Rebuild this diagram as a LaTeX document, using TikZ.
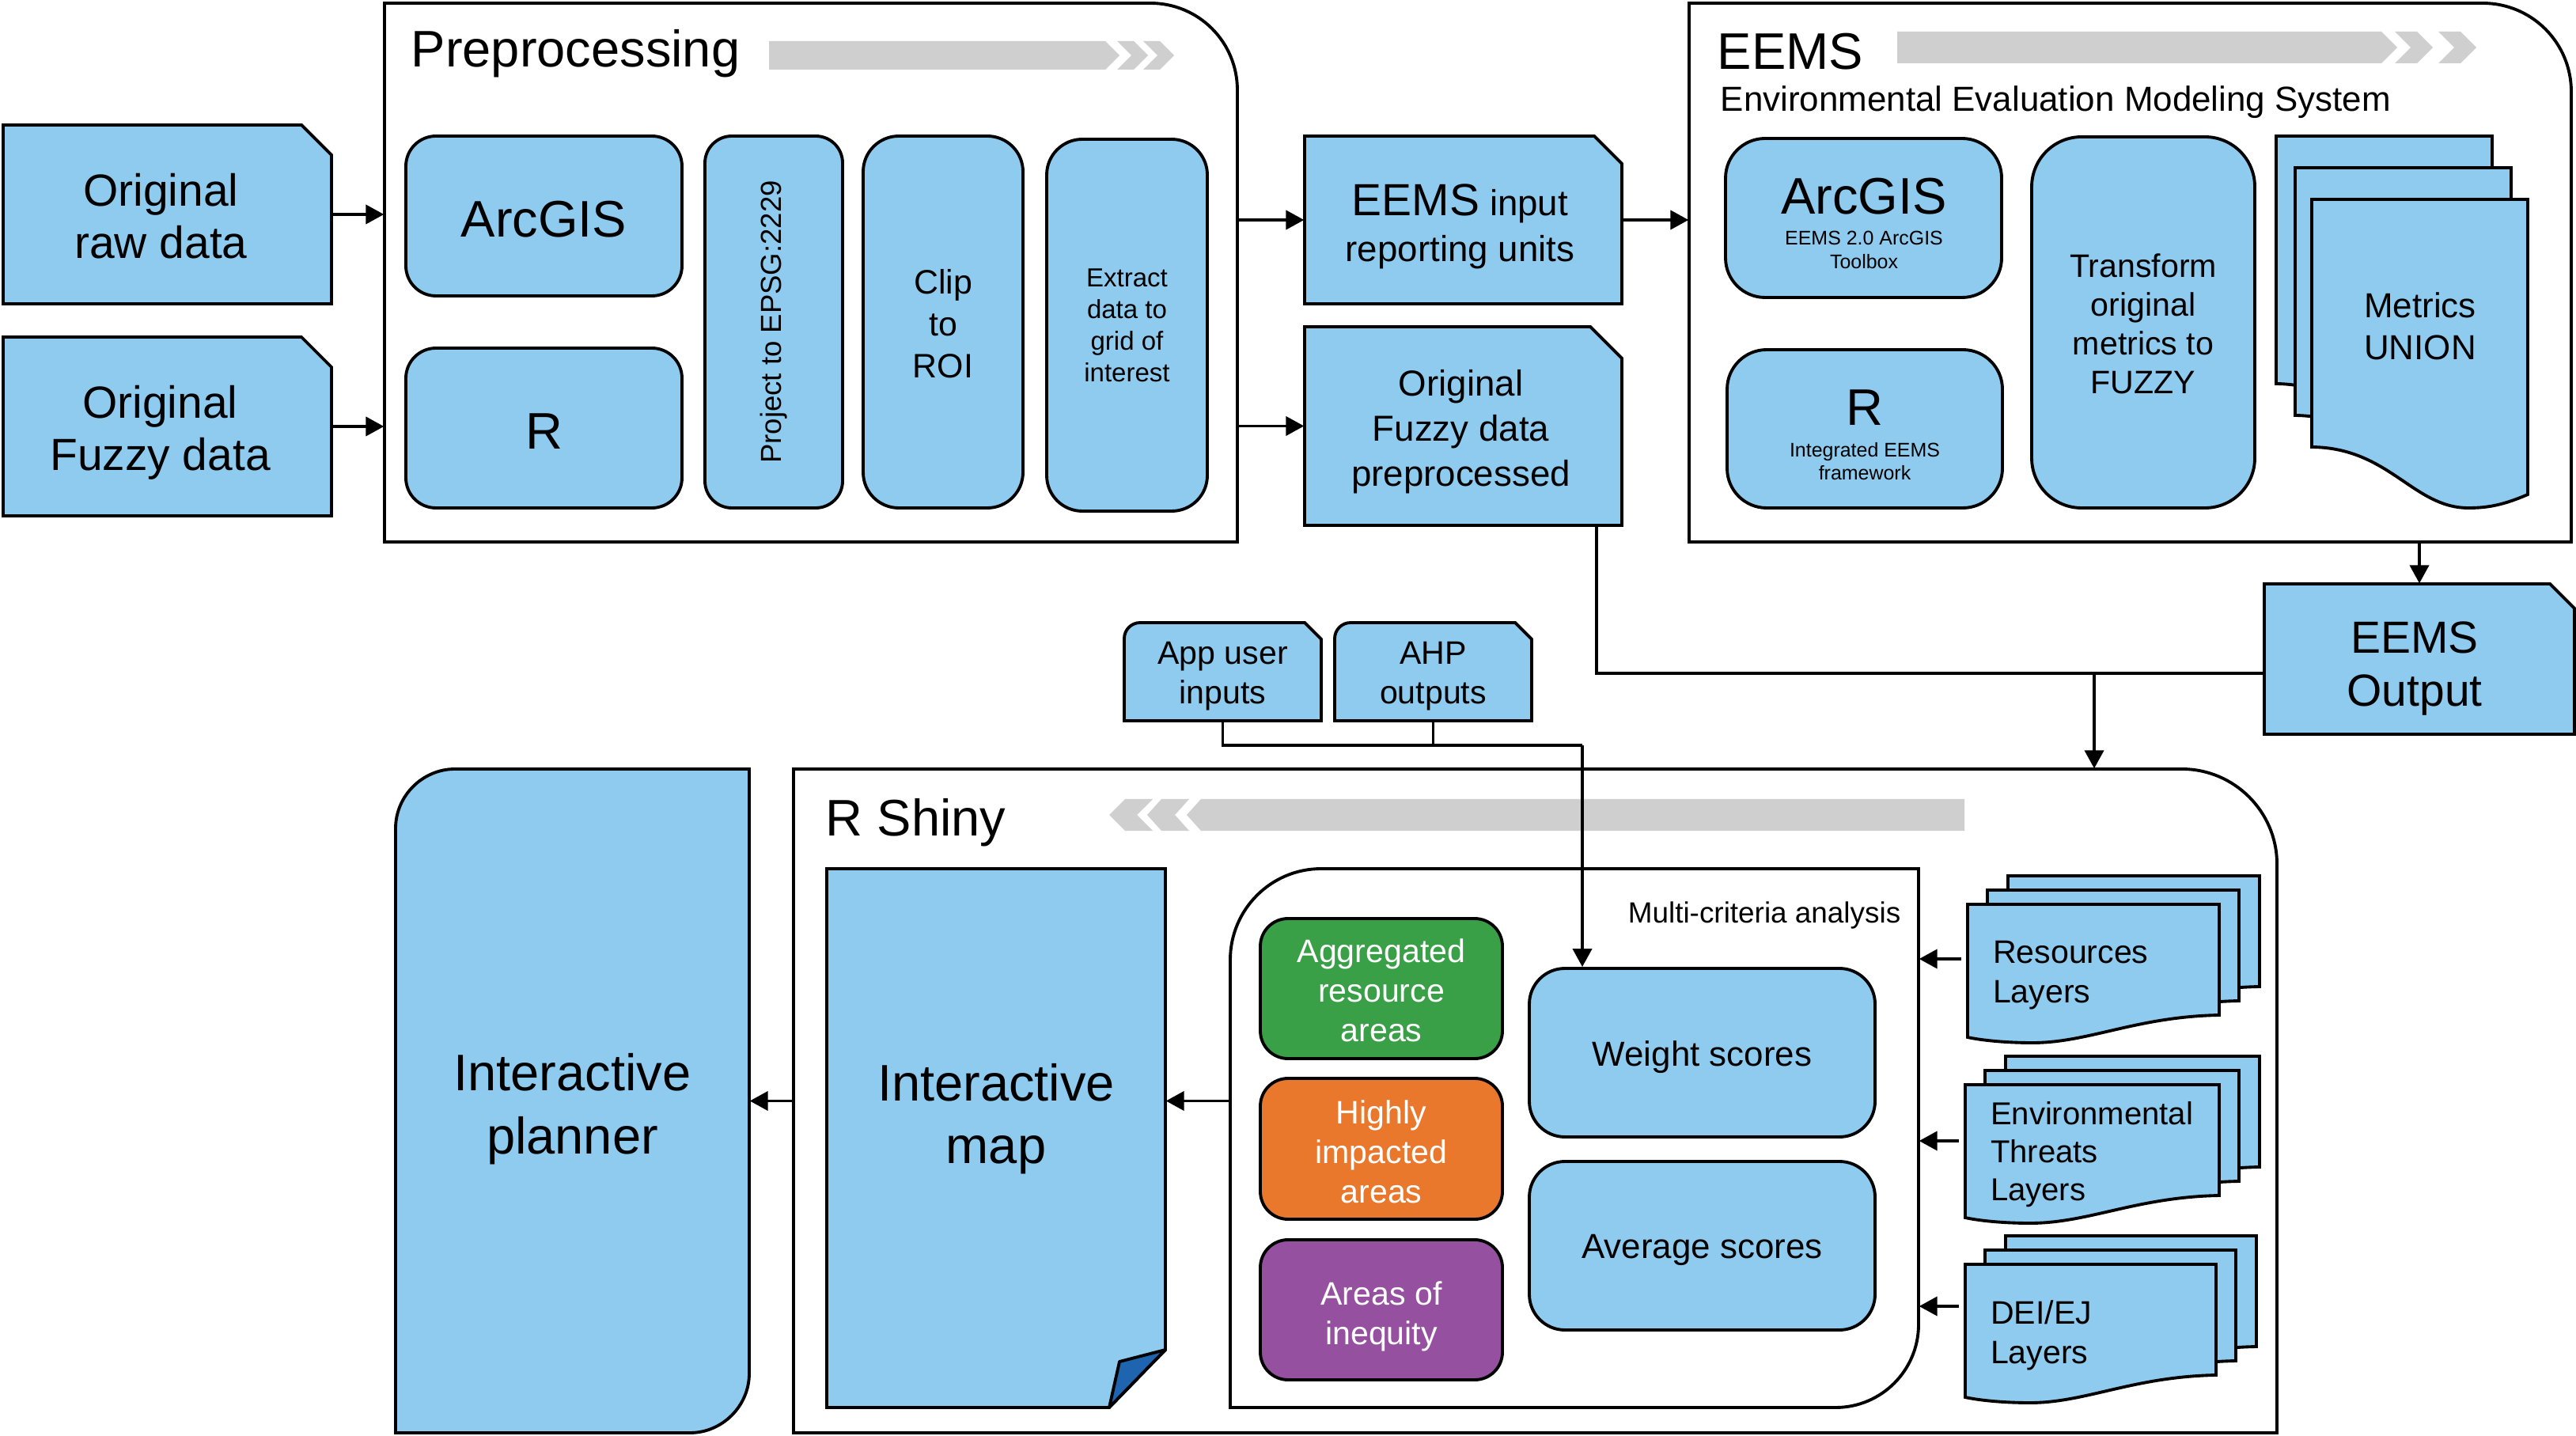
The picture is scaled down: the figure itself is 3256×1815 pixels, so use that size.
\documentclass[tikz,border=0pt]{standalone}
\usepackage{fontspec}
\setmainfont{Liberation Sans}
\usetikzlibrary{arrows.meta,calc}
\newdimen\px \px=0.1mm
\definecolor{lb}{RGB}{142,203,238}
\definecolor{gbar}{RGB}{207,207,207}
\definecolor{grn}{RGB}{58,160,72}
\definecolor{org}{RGB}{234,120,44}
\definecolor{pur}{RGB}{150,80,160}
\definecolor{dblue}{RGB}{30,100,175}
\newcommand\FsA{\fontsize{18.5}{22.6}\selectfont}
\newcommand\FsB{\fontsize{16.2}{18.8}\selectfont}
\newcommand\FsC{\fontsize{13}{16.5}\selectfont}
\newcommand\FsD{\fontsize{12.5}{15.1}\selectfont}
\newcommand\FsE{\fontsize{11.7}{14.2}\selectfont}
\newcommand\FsH{\fontsize{7.1}{8.3}\selectfont}
% box node by corners: [shape opts]{name}{x1}{y1}{x2}{y2}{text opts}{text}
\newcommand\BX[8][]{%
  \pgfmathsetmacro\bxw{#5-#3}\pgfmathsetmacro\bxh{#6-#4}%
  \node[inner sep=0pt, minimum width=\bxw\px, minimum height=\bxh\px, #1] (#2) at ({(#3+#5)/2},{(#4+#6)/2}) {};
  \node[inner sep=0pt, align=center, #7] (#2-t) at (#2.center) {#8};}
% cut-corner box: [text opts]{name}{x1}{y1}{x2}{y2}{cut}{text}
\newcommand\CUT[8][]{%
  \draw[bline, fill=lb] (#3,#4) -- ({#5-#7},#4) -- (#5,{#4+#7}) -- (#5,#6) -- (#3,#6) -- cycle;
  \BX{#2}{#3}{#4}{#5}{#6}{#1}{#8}}
% layer sheet: {a}{t}{b}{yr}
\newcommand\SHEET[4]{%
  \draw[bline, fill=lb] ({#1},{#2}) -- ({#3},{#2}) -- ({#3},{#4}) .. controls ({#3-105},{#4+2}) and ({#3-165},{#4+35}) .. ({#1+82},{#4+35}) .. controls ({#1+43},{#4+35}) and ({#1+13},{#4+31}) .. ({#1},{#4+28}) -- cycle;}
\newcommand\STACK[4]{%
  \SHEET{#1+51}{#2-36}{#3+51}{#4-36}\SHEET{#1+25}{#2-18}{#3+25}{#4-18}\SHEET{#1}{#2}{#3}{#4}}
% metrics sheet with offset {dx}{dy}
\newcommand\MSHEET[2]{%
  \draw[bline, fill=lb] ({2922+#1},{252+#2}) -- ({3195+#1},{252+#2}) -- ({3195+#1},{625+#2}) .. controls ({3165+#1},{638+#2}) and ({3145+#1},{642+#2}) .. ({3120+#1},{642+#2}) .. controls ({3050+#1},{642+#2}) and ({3020+#1},{566+#2}) .. ({2922+#1},{565+#2}) -- cycle;}
\tikzset{
  bline/.style={draw=black, line width=1.1pt, line join=miter},
  rbox/.style={draw=black, line width=1.1pt, fill=lb},
  arr/.style={line width=1.1pt, -{Triangle[length=6.5pt,width=6.8pt]}},
  cline/.style={line width=1.1pt},
}
\begin{document}
\begin{tikzpicture}[x=0.1mm,y=-0.1mm]
\useasboundingbox (0,0) rectangle (3256,1815);
\fill[white] (0,0) rectangle (3256,1815);

% ---------- Preprocessing ----------
\draw[bline] (486,685) -- (486,4) -- (1454,4) .. controls (1515,4) and (1564,53) .. (1564,114) -- (1564,685) -- cycle;
\BX{prep}{486}{4}{1564}{685}{}{}
\node[anchor=base west, inner sep=0pt, font=\FsA] (preptitle) at (519,85) {Preprocessing};
\fill[gbar] (972,52) -- (1397,52) -- (1415,70) -- (1397,88) -- (972,88) -- cycle;
\fill[gbar] (1412,52) -- (1433,52) -- (1451,70) -- (1433,88) -- (1412,88) -- (1430,70) -- cycle;
\fill[gbar] (1445,52) -- (1466,52) -- (1484,70) -- (1466,88) -- (1445,88) -- (1463,70) -- cycle;

\CUT[font=\FsB, xshift=-8\px, yshift=-2\px]{raw}{4}{158}{419}{384}{38}{Original\\raw data}
\CUT[font=\FsB, xshift=-9\px, yshift=-8\px]{fuzz}{4}{426}{419}{652}{38}{Original\\Fuzzy data}

\BX[rbox, rounded corners=38\px]{arc1}{513}{172}{862}{374}{font=\FsA, yshift=-4\px}{ArcGIS}
\BX[rbox, rounded corners=38\px]{r1}{513}{440}{862}{642}{font=\FsA, yshift=-4\px}{R}
\node[rbox, rounded corners=34\px, rotate=90, inner sep=0pt, minimum width=470\px, minimum height=174\px, font=\fontsize{10.4}{12}\selectfont] (proj) at (978,407) {Project to EPSG:2229};
\BX[rbox, rounded corners=45\px]{clip}{1091}{172}{1293}{642}{font=\fontsize{12.2}{15}\selectfont, yshift=-2\px}{Clip\\to\\ROI}
\BX[rbox, rounded corners=45\px]{extr}{1323}{176}{1526}{646}{font=\fontsize{9.4}{11.4}\selectfont}{Extract\\data to\\grid of\\interest}

\CUT[font=\FsC, xshift=-4\px, yshift=-8\px]{eemsin}{1649}{172}{2050}{384}{35}{{\FsB EEMS} input\\reporting units}
\CUT[font=\fontsize{13}{16.2}\selectfont, xshift=-3\px, yshift=-7\px]{fuzzpre}{1649}{413}{2050}{664}{40}{Original\\Fuzzy data\\preprocessed}

% ---------- EEMS ----------
\draw[bline] (2135,685) -- (2135,4) -- (3138,4) .. controls (3200,4) and (3250,54) .. (3250,116) -- (3250,685) -- cycle;
\BX{eems}{2135}{4}{3250}{685}{}{}
\node[anchor=base west, inner sep=0pt, font=\FsA] (eemstitle) at (2170,88) {EEMS};
\node[anchor=base west, inner sep=0pt, font=\FsD] (eemssub) at (2174,141) {Environmental Evaluation Modeling System};
\fill[gbar] (2398,40) -- (3010,40) -- (3030,60) -- (3010,80) -- (2398,80) -- cycle;
\fill[gbar] (3027,40) -- (3055,40) -- (3075,60) -- (3055,80) -- (3027,80) -- (3047,60) -- cycle;
\fill[gbar] (3082,40) -- (3110,40) -- (3130,60) -- (3110,80) -- (3082,80) -- (3102,60) -- cycle;

\BX[rbox, rounded corners=50\px]{arc2}{2181}{175}{2530}{376}{}{}
\node[font=\FsA, inner sep=0pt] (arc2t) at (2356,248) {ArcGIS};
\node[font=\FsH, align=center, inner sep=0pt] (arc2s) at (2356,316) {EEMS 2.0 ArcGIS\\Toolbox};
\BX[rbox, rounded corners=50\px]{r2}{2183}{442}{2531}{642}{}{}
\node[font=\FsA, inner sep=0pt] (r2t) at (2357,515) {R};
\node[font=\FsH, align=center, inner sep=0pt] (r2s) at (2357,583) {Integrated EEMS\\framework};
\BX[rbox, rounded corners=63\px]{trans}{2568}{173}{2850}{642}{font=\fontsize{11.7}{13.9}\selectfont, yshift=-2\px}{Transform\\original\\metrics to\\FUZZY}

\MSHEET{-45}{-80}
\MSHEET{-21}{-40}
\MSHEET{0}{0}
\node[font=\FsD, align=center, inner sep=0pt] (metrics) at (3059,412) {Metrics\\UNION};

\CUT[font=\fontsize{16.2}{19}\selectfont, xshift=-6\px, yshift=-12\px]{eemsout}{2862}{738}{3254}{928}{31}{EEMS\\Output}

% ---------- inputs ----------
\draw[bline, fill=lb] (1421,911) -- (1421,807) .. controls (1421,796) and (1430,787) .. (1441,787) -- (1649,787) -- (1670,808) -- (1670,911) -- cycle;
\BX{app}{1421}{787}{1670}{911}{font=\FsE, yshift=-6\px}{App user\\inputs}
\draw[bline, fill=lb] (1687,911) -- (1687,807) .. controls (1687,796) and (1696,787) .. (1707,787) -- (1915,787) -- (1936,808) -- (1936,911) -- cycle;
\BX{ahp}{1687}{787}{1936}{911}{font=\FsE, yshift=-6\px}{AHP\\outputs}

% ---------- R Shiny ----------
\draw[bline] (1003,1811) -- (1003,972) -- (2758,972) .. controls (2824,972) and (2878,1026) .. (2878,1092) -- (2878,1811) -- cycle;
\BX{rshiny}{1003}{972}{2878}{1811}{}{}
\node[anchor=base west, inner sep=0pt, font=\FsA] (rshinytitle) at (1043,1056) {R Shiny};
\fill[gbar] (2483,1010) -- (1518,1010) -- (1500,1030) -- (1518,1050) -- (2483,1050) -- cycle;
\fill[gbar] (1503,1010) -- (1468,1010) -- (1450,1030) -- (1468,1050) -- (1503,1050) -- (1485,1030) -- cycle;
\fill[gbar] (1457,1010) -- (1422,1010) -- (1402,1030) -- (1422,1050) -- (1457,1050) -- (1437,1030) -- cycle;

\draw[bline, fill=lb] (500,1811) -- (500,1047) .. controls (500,1006) and (534,972) .. (575,972) -- (947,972) -- (947,1736) .. controls (947,1777) and (913,1811) .. (872,1811) -- cycle;
\BX{planner}{500}{972}{947}{1811}{font=\FsA, yshift=-10\px}{Interactive\\planner}

\draw[bline, fill=lb] (1045,1098) -- (1473,1098) -- (1473,1706) -- (1402,1779) -- (1045,1779) -- cycle;
\draw[bline, fill=dblue, line join=round] (1473,1706) -- (1415,1721) -- (1402,1779) -- cycle;
\BX{map}{1045}{1098}{1473}{1779}{}{}
\node[font=\FsA, align=center, inner sep=0pt] (maptxt) at (1259,1414) {Interactive\\map};

\draw[bline] (1555,1779) -- (1555,1213) .. controls (1555,1150) and (1606,1098) .. (1670,1098) -- (2425,1098) -- (2425,1674) .. controls (2425,1732) and (2378,1779) .. (2320,1779) -- cycle;
\BX{mca}{1555}{1098}{2425}{1779}{}{}
\node[anchor=base east, inner sep=0pt, font=\fontsize{10.5}{12.5}\selectfont] (mcatitle) at (2403,1166) {Multi-criteria analysis};

\BX[rbox, fill=grn, rounded corners=35\px]{agg}{1593}{1161}{1899}{1338}{font=\FsE, text=white, yshift=-2\px}{Aggregated\\resource\\areas}
\BX[rbox, fill=org, rounded corners=35\px]{high}{1593}{1363}{1899}{1541}{font=\FsE, text=white, yshift=-4\px}{Highly\\impacted\\areas}
\BX[rbox, fill=pur, rounded corners=35\px]{ineq}{1593}{1567}{1899}{1744}{font=\FsE, text=white, yshift=-8\px}{Areas of\\inequity}
\BX[rbox, rounded corners=45\px]{weight}{1933}{1224}{2370}{1437}{font=\FsD, yshift=-6\px}{Weight scores}
\BX[rbox, rounded corners=45\px]{avg}{1933}{1468}{2370}{1681}{font=\FsD, yshift=-5\px}{Average scores}

\STACK{2487}{1143}{2805}{1283}
\node[font=\FsE, align=left, inner sep=0pt, text width=254\px, minimum width=318\px, minimum height=168\px] (res) at (2646,1227) {};
\node[font=\FsE, align=left, inner sep=0pt, text width=254\px] (res-t) at (2646,1233) {Resources\\Layers};
\STACK{2484}{1371}{2805}{1511}
\node[inner sep=0pt, minimum width=321\px, minimum height=168\px] (env) at (2644.5,1455) {};
\node[font=\fontsize{11.4}{13.7}\selectfont, align=left, inner sep=0pt, text width=257\px] (env-t) at (2644.5,1459) {Environmental\\Threats\\Layers};
\STACK{2484}{1598}{2801}{1738}
\node[inner sep=0pt, minimum width=317\px, minimum height=168\px] (dei) at (2642.5,1682) {};
\node[font=\FsE, align=left, inner sep=0pt, text width=253\px] (dei-t) at (2642.5,1688) {DEI/EJ\\Layers};

% ---------- connectors ----------
\draw[arr] (raw.east) -- (raw.east -| prep.west);
\draw[arr] (fuzz.east) -- (fuzz.east -| prep.west);
\draw[arr] (eemsin.west -| prep.east) -- (eemsin.west);
\draw[arr] (fuzzpre.west -| prep.east) -- (fuzzpre.west);
\draw[arr] (eemsin.east) -- (eemsin.east -| eems.west);
\draw[arr] (eemsout.north |- eems.south) -- (eemsout.north);
\coordinate (jn) at (2647,851);
\draw[cline] ([xshift=-33\px]fuzzpre.south east) |- (jn) -- (jn -| eemsout.west);
\draw[arr] (jn) -- (jn |- rshiny.north);
\coordinate (kn) at (2000,942);
\draw[cline] (app.south) |- (kn);
\draw[cline] (ahp.south) -- (ahp.south |- kn);
\draw[arr] (kn) -- (kn |- weight.north);
\draw[arr] (rshiny.west) -- (rshiny.west -| planner.east);
\draw[arr] (rshiny.center -| mca.west) -- (rshiny.center -| map.east);
\coordinate (ra) at ([xshift=-7\px,yshift=15\px]res.west);
\draw[arr] (ra) -- (ra -| mca.east);
\coordinate (ea) at ([xshift=-7\px,yshift=13\px]env.west);
\draw[arr] (ea) -- (ea -| mca.east);
\coordinate (da) at ([xshift=-7\px,yshift=31\px]dei.west);
\draw[arr] (da) -- (da -| mca.east);
\end{tikzpicture}
\end{document}
